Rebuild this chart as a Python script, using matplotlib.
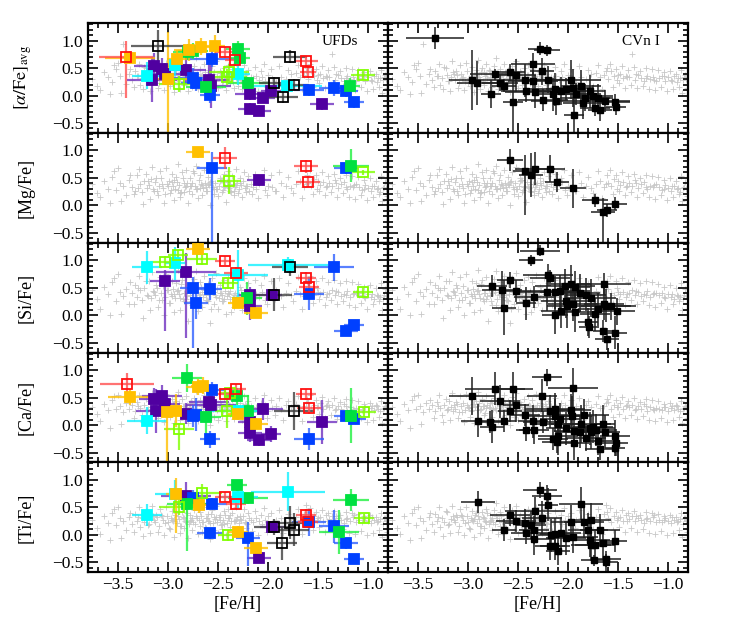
import numpy as np
import matplotlib
matplotlib.use('Agg')
import matplotlib.pyplot as plt
from matplotlib.ticker import MultipleLocator

plt.rcParams['font.family'] = ['Liberation Serif', 'DejaVu Serif']
plt.rcParams['mathtext.fontset'] = 'stix'
plt.rcParams['axes.unicode_minus'] = True

# ---------------- Halo comparison sample (gray crosses) ----------------
halo_feh = [
 -3.76, -3.71, -3.64, -3.60, -3.56, -3.52, -3.48, -3.45, -3.42, -3.39,
 -3.36, -3.33, -3.31, -3.28, -3.26, -3.24, -3.21, -3.19, -3.17, -3.15,
 -3.13, -3.11, -3.09, -3.07, -3.05, -3.03, -3.01, -2.99, -2.97, -2.95,
 -2.93, -2.91, -2.89, -2.87, -2.85, -2.83, -2.81, -2.79, -2.77, -2.75,
 -2.73, -2.71, -2.69, -2.67, -2.65, -2.63, -2.61, -2.59, -2.57, -2.55,
 -2.53, -2.51, -2.49, -2.47, -2.45, -2.43, -2.41, -2.39, -2.37, -2.35,
 -2.33, -2.31, -2.29, -2.27, -2.25, -2.23, -2.21, -2.19, -2.17, -2.15,
 -2.12, -2.09, -2.06, -2.03, -2.00, -1.96, -1.92, -1.87, -1.82, -1.77,
 -1.72, -1.68, -1.64, -1.60, -1.57, -1.54, -1.51, -1.48, -1.45, -1.42,
 -1.39, -1.36, -1.33, -1.30, -1.27, -1.24, -1.21, -1.18, -1.15, -1.12,
 -1.09, -1.06, -1.03, -1.00, -0.97, -0.94, -0.91, -0.88, -0.85, -0.82,
 -3.30, -3.20, -3.14, -3.06, -3.00, -2.94, -2.88, -2.84, -2.78, -2.72,
 -2.66, -2.62, -2.58, -2.52, -2.48, -2.44, -2.38, -2.34, -2.28, -2.22,
 -2.96, -2.90, -2.82, -2.76, -2.68, -2.60, -2.54, -2.46, -2.40, -2.32,
 -1.62, -1.50, -1.41, -1.32, -1.22, -1.14, -1.04, -0.96, -0.90, -0.84,
]
halo_alpha = [
 0.30, 0.18, 0.42, 0.33, 0.25, 0.48, 0.36, 0.94, 0.21, 0.39,
 0.28, 0.44, 0.35, 0.20, 0.31, 0.52, 0.38, 0.26, 0.34, 0.42,
 0.29, 0.37, 0.23, 0.40, 0.33, 0.27, 0.45, 0.31, 0.36, 0.24,
 0.38, 0.30, 0.34, 0.42, 0.27, 0.35, 0.31, 0.46, 0.29, 0.37,
 0.33, 0.40, 0.26, 0.36, 0.30, 0.43, 0.28, 0.35, 0.32, 0.39,
 0.29, 0.36, 0.31, 0.41, 0.27, 0.34, 0.38, 0.30, 0.33, 0.25,
 0.35, 0.31, 0.40, 0.28, 0.33, 0.37, 0.30, 0.26, 0.34, 0.31,
 0.36, 0.29, 0.33, 0.27, 0.38, 0.31, 0.25, 0.34, 0.30, 0.39,
 0.41, 0.33, 0.37, 0.30, 0.44, 0.35, 0.28, 0.39, 0.32, 0.36,
 0.34, 0.75, 0.29, 0.37, 0.31, 0.26, 0.35, 0.30, 0.33, 0.27,
 0.31, 0.36, 0.27, 0.33, 0.29, 0.35, 0.24, 0.32, 0.28, 0.30,
 0.36, 0.27, 0.40, 0.32, 0.22, 0.37, 0.30, 0.43, 0.34, 0.28,
 0.38, 0.31, 0.35, 0.26, 0.41, 0.33, 0.29, 0.36, 0.31, 0.39,
 0.25, 0.34, 0.39, 0.30, 0.36, 0.28, 0.42, 0.33, 0.37, 0.31,
 0.45, 0.38, 0.34, 0.40, 0.32, 0.29, 0.36, 0.27, 0.31, 0.33,
]
halo_mg = [
 0.38, 0.22, 0.45, 0.30, 0.52, 0.28, 0.41, 0.35, 0.18, 0.47,
 0.33, 0.26, 0.55, 0.39, 0.24, 0.44, 0.31, 0.37, 0.48, 0.29,
 0.42, 0.27, 0.36, 0.50, 0.32, 0.21, 0.39, 0.45, 0.28, 0.35,
 0.30, 0.43, 0.37, 0.25, 0.49, 0.34, 0.40, 0.27, 0.36, 0.62,
 0.35, 0.29, 0.46, 0.38, 0.31, 0.41, 0.26, 0.37, 0.44, 0.33,
 0.40, 0.30, 0.36, 0.47, 0.28, 0.35, 0.42, 0.32, 0.25, 0.38,
 0.34, 0.41, 0.29, 0.37, 0.44, 0.31, 0.36, 0.27, 0.39, 0.33,
 0.30, 0.38, 0.42, 0.28, 0.35, 0.33, 0.26, 0.40, 0.36, 0.31,
 0.39, 0.45, 0.34, 0.41, 0.36, 0.48, 0.30, 0.37, 0.43, 0.33,
 0.40, 0.35, 0.46, 0.31, 0.38, 0.42, 0.29, 0.36, 0.33, 0.39,
 0.34, 0.28, 0.37, 0.31, 0.26, 0.35, 0.30, 0.24, 0.32, 0.29,
 0.31, 0.44, 0.27, 0.38, 0.35, 0.47, 0.23, 0.40, 0.36, 0.30,
 0.37, 0.33, 0.42, 0.29, 0.45, 0.34, 0.39, 0.26, 0.41, 0.35,
 0.43, 0.28, 0.36, 0.40, 0.32, 0.38, 0.30, 0.46, 0.34, 0.37,
 0.38, 0.44, 0.35, 0.41, 0.33, 0.37, 0.30, 0.36, 0.32, 0.34,
]
halo_si = [
 0.45, 0.30, 0.52, 0.38, 0.60, 0.25, 0.42, 0.35, 0.48, 0.20,
 0.40, 0.55, 0.33, 0.46, 0.28, 0.50, 0.37, 0.62, 0.31, 0.44,
 0.36, 0.49, 0.27, 0.41, 0.53, 0.34, 0.45, 0.22, 0.39, 0.47,
 0.32, 0.44, 0.38, 0.56, 0.29, 0.41, 0.35, 0.48, 0.26, 0.40,
 0.43, 0.30, 0.37, 0.51, 0.34, 0.45, 0.28, 0.39, 0.12, 0.42,
 0.36, 0.47, 0.31, 0.40, 0.25, 0.44, 0.35, 0.38, 0.05, 0.33,
 0.41, 0.29, 0.36, 0.45, 0.32, 0.39, 0.27, 0.43, 0.34, 0.30,
 0.38, 0.33, 0.42, 0.28, 0.36, 0.31, 0.45, 0.35, 0.40, 0.37,
 0.44, 0.39, 0.35, 0.47, 0.41, 0.36, 0.50, 0.38, 0.43, 0.34,
 0.40, 0.46, 0.37, 0.42, 0.35, 0.39, 0.44, 0.33, 0.38, 0.41,
 0.36, 0.40, 0.32, 0.38, 0.34, 0.30, 0.37, 0.33, 0.29, 0.35,
 0.50, 0.35, 0.43, 0.28, 0.46, 0.39, 0.32, 0.41, 0.37, 0.18,
 0.42, 0.36, 0.48, 0.33, 0.40, 0.29, 0.44, 0.37, 0.31, 0.39,
 0.35, 0.46, 0.30, 0.41, 0.38, 0.26, 0.43, 0.36, 0.40, 0.33,
 0.47, 0.42, 0.38, 0.44, 0.36, 0.40, 0.34, 0.39, 0.35, 0.37,
]
halo_ca = [
 0.32, 0.20, 0.38, 0.27, 0.45, 0.30, 0.35, 0.24, 0.40, 0.29,
 0.36, 0.25, 0.42, 0.31, 0.19, 0.37, 0.28, 0.44, 0.33, 0.26,
 0.30, 0.39, 0.23, 0.34, 0.41, 0.28, 0.36, 0.31, 0.25, 0.38,
 0.33, 0.27, 0.40, 0.30, 0.35, 0.22, 0.37, 0.32, 0.43, 0.29,
 0.31, 0.38, 0.26, 0.34, 0.29, 0.41, 0.33, 0.27, 0.36, 0.30,
 0.35, 0.28, 0.32, 0.39, 0.25, 0.33, 0.30, 0.37, 0.27, 0.34,
 0.29, 0.36, 0.31, 0.26, 0.34, 0.38, 0.28, 0.32, 0.35, 0.24,
 0.33, 0.27, 0.30, 0.36, 0.25, 0.31, 0.34, 0.29, 0.37, 0.32,
 0.38, 0.31, 0.35, 0.42, 0.29, 0.36, 0.33, 0.40, 0.30, 0.34,
 0.32, 0.37, 0.28, 0.35, 0.30, 0.38, 0.26, 0.33, 0.29, 0.31,
 0.30, 0.27, 0.33, 0.25, 0.31, 0.28, 0.34, 0.26, 0.29, 0.32,
 0.34, 0.29, 0.37, 0.23, 0.32, 0.39, 0.27, 0.35, 0.31, 0.28,
 0.36, 0.30, 0.26, 0.38, 0.33, 0.29, 0.35, 0.31, 0.27, 0.34,
 0.28, 0.35, 0.31, 0.40, 0.26, 0.33, 0.37, 0.30, 0.34, 0.29,
 0.40, 0.33, 0.36, 0.30, 0.34, 0.28, 0.32, 0.35, 0.29, 0.31,
]
halo_ti = [
 0.28, 0.12, 0.35, 0.22, 0.40, 0.18, 0.30, 0.25, 0.08, 0.33,
 0.20, 0.38, 0.26, 0.15, 0.31, 0.24, 0.42, 0.19, 0.29, 0.35,
 0.23, 0.32, 0.17, 0.37, 0.27, 0.21, 0.34, 0.13, 0.30, 0.25,
 0.36, 0.22, 0.29, 0.16, 0.33, 0.26, 0.40, 0.20, 0.28, 0.24,
 0.19, 0.31, 0.27, 0.35, 0.23, 0.14, 0.30, 0.26, 0.38, 0.21,
 0.29, 0.24, 0.33, 0.18, 0.27, 0.36, 0.22, 0.30, 0.25, 0.10,
 0.26, 0.32, 0.21, 0.28, 0.35, 0.24, 0.19, 0.30, 0.27, 0.23,
 0.31, 0.25, 0.20, 0.28, 0.34, 0.22, 0.27, 0.30, 0.24, 0.29,
 0.33, 0.27, 0.38, 0.30, 0.24, 0.35, 0.28, 0.32, 0.26, 0.36,
 0.29, 0.34, 0.25, 0.31, 0.27, 0.22, 0.30, 0.26, 0.33, 0.24,
 0.27, 0.23, 0.30, 0.26, 0.21, 0.28, 0.24, 0.29, 0.20, 0.25,
 0.32, 0.18, 0.27, 0.35, 0.23, 0.29, 0.16, 0.31, 0.25, 0.34,
 0.24, 0.30, 0.21, 0.33, 0.27, 0.19, 0.36, 0.26, 0.29, 0.22,
 0.28, 0.35, 0.23, 0.31, 0.17, 0.26, 0.32, 0.20, 0.30, 0.27,
 0.55, 0.31, 0.26, 0.34, 0.29, 0.36, 0.27, 0.32, 0.25, 0.30,
]

# second, more scattered part of the halo sample
halo2_feh = [
 -3.68, -3.54, -3.47, -3.38, -3.34, -3.29, -3.25, -3.22, -3.18, -3.16,
 -3.12, -3.10, -3.08, -3.04, -3.02, -2.98, -2.96, -2.94, -2.92, -2.90,
 -2.88, -2.86, -2.84, -2.82, -2.80, -2.78, -2.76, -2.74, -2.72, -2.70,
 -2.68, -2.66, -2.64, -2.62, -2.60, -2.58, -2.56, -2.54, -2.52, -2.50,
 -2.48, -2.46, -2.44, -2.42, -2.40, -2.38, -2.36, -2.34, -2.32, -2.30,
 -2.28, -2.26, -2.24, -2.22, -2.20, -2.16, -2.13, -2.10, -2.07, -2.04,
 -2.01, -1.97, -1.93, -1.89, -1.85, -1.80, -1.75, -1.70, -1.66, -1.61,
 -1.58, -1.55, -1.52, -1.49, -1.46, -1.43, -1.40, -1.37, -1.34, -1.31,
 -1.28, -1.25, -1.22, -1.19, -1.16, -1.13, -1.10, -1.07, -1.04, -1.01,
 -0.98, -0.95, -0.92, -0.89, -0.87, -0.86, -0.83, -0.81, -3.58, -3.50,
]
halo2_alpha = [
 0.10, 0.55, 0.05, 0.48, 0.15, 0.58, 0.12, 0.50, 0.08, 0.62,
 0.45, 0.14, 0.55, 0.10, 0.60, 0.18, 0.52, 0.06, 0.47, 0.65,
 0.12, 0.50, 0.20, 0.57, 0.09, 0.44, 0.16, 0.53, 0.68, 0.11,
 0.49, 0.15, 0.58, 0.21, 0.46, 0.07, 0.54, 0.17, 0.62, 0.13,
 0.45, 0.19, 0.51, 0.10, 0.56, 0.22, 0.48, 0.14, 0.60, 0.18,
 0.43, 0.12, 0.55, 0.20, 0.47, 0.16, 0.52, 0.09, 0.44, 0.57,
 0.15, 0.48, 0.21, 0.53, 0.12, 0.46, 0.18, 0.55, 0.11, 0.50,
 0.58, 0.16, 0.49, 0.22, 0.54, 0.14, 0.47, 0.20, 0.52, 0.13,
 0.45, 0.18, 0.50, 0.12, 0.48, 0.10, 0.46, 0.15, 0.42, 0.08,
 0.44, 0.12, 0.40, 0.16, 0.47, 0.05, 0.38, 0.14, 0.02, 0.60,
]
halo2_mg = [
 0.15, 0.62, 0.08, 0.55, 0.20, 0.66, 0.02, 0.58, 0.12, 0.70,
 0.50, 0.18, 0.63, 0.05, 0.68, 0.22, 0.57, 0.10, 0.52, 0.75,
 0.16, 0.60, 0.25, 0.64, 0.04, 0.50, 0.20, 0.59, 0.72, 0.14,
 0.55, 0.19, 0.65, 0.26, 0.52, 0.00, 0.61, 0.21, 0.69, 0.17,
 0.50, 0.24, 0.58, 0.06, 0.63, 0.27, 0.54, 0.18, 0.67, 0.23,
 0.49, 0.16, 0.61, 0.25, 0.53, 0.20, 0.58, 0.13, 0.50, 0.64,
 0.19, 0.55, 0.26, 0.60, 0.15, 0.52, 0.22, 0.62, 0.14, 0.56,
 0.65, 0.20, 0.55, 0.27, 0.60, 0.18, 0.53, 0.24, 0.58, 0.16,
 0.50, 0.22, 0.56, 0.15, 0.54, 0.12, 0.52, 0.18, 0.47, 0.10,
 0.49, 0.15, 0.45, 0.20, 0.53, 0.08, 0.43, 0.17, 0.05, 0.68,
]
halo2_si = [
 0.12, 0.68, 0.02, 0.60, 0.20, 0.72, -0.05, 0.63, 0.10, 0.78,
 0.55, 0.15, 0.70, 0.00, 0.75, 0.22, 0.62, 0.05, 0.58, 0.82,
 0.10, 0.65, 0.25, 0.70, -0.10, 0.55, 0.18, 0.66, 0.80, 0.08,
 0.60, 0.15, 0.72, 0.28, 0.57, -0.15, 0.68, 0.20, 0.76, 0.12,
 0.55, 0.25, 0.64, 0.02, 0.70, 0.30, 0.60, 0.15, 0.74, 0.22,
 0.52, 0.10, 0.68, 0.28, 0.58, 0.18, 0.65, 0.05, 0.55, 0.72,
 0.20, 0.62, 0.30, 0.68, 0.15, 0.58, 0.25, 0.70, 0.12, 0.63,
 0.72, 0.22, 0.62, 0.30, 0.68, 0.18, 0.60, 0.28, 0.65, 0.20,
 0.58, 0.25, 0.63, 0.18, 0.60, 0.15, 0.57, 0.22, 0.52, 0.12,
 0.55, 0.20, 0.50, 0.25, 0.58, 0.10, 0.48, 0.22, 0.00, 0.75,
]
halo2_ca = [
 0.08, 0.52, 0.02, 0.45, 0.12, 0.55, 0.05, 0.48, 0.10, 0.58,
 0.42, 0.12, 0.52, 0.06, 0.56, 0.15, 0.48, 0.04, 0.44, 0.60,
 0.10, 0.47, 0.18, 0.53, 0.03, 0.41, 0.14, 0.50, 0.62, 0.08,
 0.46, 0.12, 0.55, 0.19, 0.43, 0.00, 0.51, 0.15, 0.58, 0.10,
 0.42, 0.17, 0.48, 0.07, 0.53, 0.20, 0.45, 0.11, 0.56, 0.16,
 0.40, 0.10, 0.52, 0.18, 0.44, 0.13, 0.49, 0.06, 0.41, 0.54,
 0.12, 0.45, 0.19, 0.50, 0.10, 0.43, 0.16, 0.52, 0.08, 0.47,
 0.54, 0.14, 0.46, 0.20, 0.51, 0.12, 0.44, 0.18, 0.49, 0.11,
 0.42, 0.16, 0.47, 0.10, 0.45, 0.08, 0.43, 0.13, 0.39, 0.06,
 0.41, 0.10, 0.37, 0.14, 0.44, 0.03, 0.35, 0.12, -0.05, 0.55,
]
halo2_ti = [
 0.02, 0.48, -0.05, 0.40, 0.06, 0.50, -0.02, 0.43, 0.04, 0.53,
 0.37, 0.06, 0.47, 0.00, 0.51, 0.10, 0.44, -0.03, 0.39, 0.56,
 0.04, 0.42, 0.12, 0.48, -0.06, 0.36, 0.08, 0.45, 0.58, 0.02,
 0.41, 0.06, 0.50, 0.13, 0.38, -0.08, 0.46, 0.09, 0.53, 0.04,
 0.37, 0.11, 0.43, 0.00, 0.48, 0.14, 0.40, 0.05, 0.51, 0.10,
 0.35, 0.04, 0.47, 0.12, 0.39, 0.07, 0.44, 0.00, 0.36, 0.49,
 0.06, 0.40, 0.13, 0.45, 0.04, 0.38, 0.10, 0.47, 0.02, 0.42,
 0.49, 0.08, 0.41, 0.14, 0.46, 0.06, 0.39, 0.12, 0.44, 0.05,
 0.37, 0.10, 0.42, 0.04, 0.40, 0.02, 0.38, 0.07, 0.34, 0.00,
 0.36, 0.04, 0.32, 0.08, 0.39, -0.03, 0.30, 0.06, -0.10, 0.50,
]

# ---------------- UFD stars (left column) ----------------
# [alpha/Fe]avg
ufd_alpha_gal = (['red'] * 5 + ['orange'] * 6 + ['black'] * 5 + ['lime'] * 4 +
                 ['green'] * 7 + ['cyan'] * 4 + ['blue'] * 8 + ['purple'] * 13)
ufd_alpha_feh = [-3.42, -2.43, -2.33, -1.62, -1.60,
                 -3.38, -3.00, -2.91, -2.79, -2.67, -2.53,
                 -3.10, -1.94, -1.85, -1.78, -1.74,
                 -2.89, -2.41, -2.39, -1.05,
                 -2.80, -2.75, -2.30, -2.28, -2.20, -2.62, -1.18,
                 -3.21, -2.93, -2.30, -1.81,
                 -2.56, -2.75, -2.72, -2.58, -1.59, -1.34, -1.22, -1.14,
                 -3.16, -3.14, -3.06, -3.03, -2.82, -2.59, -2.57, -2.18, -2.18, -2.09, -2.05, -1.97, -1.46]
ufd_alpha_val = [0.71, 0.79, 0.64, 0.62, 0.42,
                 0.69, 0.30, 0.67, 0.83, 0.89, 0.90,
                 0.90, 0.23, -0.03, 0.71, 0.20,
                 0.21, 0.34, 0.42, 0.37,
                 0.79, 0.81, 0.85, 0.68, 0.23, 0.15, 0.17,
                 0.36, 0.56, 0.40, 0.17,
                 0.67, 0.31, 0.23, 0.01, 0.10, 0.14, 0.08, -0.12,
                 0.28, 0.53, 0.48, 0.40, 0.46, 0.28, 0.18, 0.02, -0.24, -0.28, -0.04, 0.08, -0.16]
ufd_alpha_feh_err = [0.27, 0.10, 0.10, 0.12, 0.08,
                     0.25, 0.20, 0.10, 0.15, 0.15, 0.10,
                     0.27, 0.15, 0.15, 0.17, 0.15,
                     0.20, 0.20, 0.20, 0.12,
                     0.15, 0.15, 0.12, 0.10, 0.20, 0.20, 0.10,
                     0.15, 0.10, 0.12, 0.35,
                     0.25, 0.20, 0.15, 0.10, 0.15, 0.15, 0.12, 0.10,
                     0.25, 0.20, 0.15, 0.15, 0.20, 0.20, 0.20, 0.15, 0.12, 0.12, 0.12, 0.10, 0.12]
ufd_alpha_val_err = [[0.76, 0.29], 0.10, 0.10, 0.10, 0.10,
                     0.12, [1.0, 0.85], 0.15, 0.20, 0.15, 0.20,
                     0.30, 0.10, 0.10, 0.12, 0.10,
                     0.15, 0.15, 0.15, 0.08,
                     0.15, 0.15, 0.15, 0.10, 0.10, 0.10, 0.15,
                     0.25, 0.20, 0.20, 0.10,
                     0.15, 0.20, 0.15, 0.15, 0.10, 0.15, 0.10, 0.10,
                     0.40, 0.25, 0.20, 0.20, 0.25, 0.30, 0.40, 0.10, 0.10, 0.10, 0.10, 0.10, 0.10]

# [Mg/Fe]
ufd_mg_gal = ['orange', 'red', 'red', 'red', 'blue', 'blue', 'lime', 'lime', 'purple', 'green']
ufd_mg_feh = [-2.70, -2.43, -1.62, -1.60, -2.56, -1.22, -2.39, -1.05, -2.09, -1.17]
ufd_mg_val = [0.97, 0.87, 0.71, 0.43, 0.68, 0.68, 0.45, 0.60, 0.46, 0.72]
ufd_mg_feh_err = [0.12, 0.12, 0.12, 0.12, 0.15, 0.12, 0.12, 0.12, 0.12, 0.18]
ufd_mg_val_err = [0.10, 0.20, 0.12, 0.10, [1.4, 0.3], 0.10, 0.25, 0.05, 0.10, 0.30]

# [Si/Fe]
ufd_si_gal = (['red'] * 4 + ['orange'] * 3 + ['black'] * 2 + ['lime'] * 5 + ['green'] * 1 +
              ['cyan'] * 4 + ['blue'] * 7 + ['purple'] * 5)
ufd_si_feh = [-2.43, -2.32, -1.62, -1.59,
              -2.70, -2.30, -2.12,
              -1.94, -1.78,
              -3.03, -2.90, -2.66, -2.40, -1.05,
              -2.21,
              -3.21, -2.93, -2.30, -1.80,
              -2.75, -2.72, -2.58, -1.34, -1.59, -1.22, -1.14,
              -3.03, -2.82, -2.18, -2.18, -1.96]
ufd_si_val = [0.99, 0.77, 0.68, 0.51,
              1.21, 0.23, 0.04,
              0.37, 0.87,
              0.97, 1.09, 1.02, 0.58, 0.42,
              0.31,
              0.87, 0.95, 0.74, 0.91,
              0.50, 0.23, 0.48, 0.87, 0.39, -0.28, -0.18,
              0.62, 0.79, 0.37, 0.17, 0.36]
ufd_si_feh_err = [0.10, 0.12, 0.10, 0.10,
                  0.12, 0.10, 0.12,
                  0.18, 0.18,
                  0.15, 0.10, 0.15, 0.10, 0.10,
                  0.15,
                  0.15, 0.10, 0.30, 0.40,
                  0.13, 0.12, 0.12, 0.20, 0.15, 0.12, 0.10,
                  0.15, 0.30, 0.12, 0.12, 0.10]
ufd_si_val_err = [0.08, 0.10, 0.10, 0.10,
                  0.10, 0.10, 0.10,
                  0.30, 0.15,
                  0.10, 0.10, 0.10, 0.10, 0.08,
                  0.30,
                  0.30, 0.30, 0.45, 0.15,
                  [1.1, 0.2], 0.30, 0.20, 0.25, 0.30, 0.10, 0.08,
                  [0.9, 0.2], [1.2, 0.35], 0.15, 0.25, 0.10]

# [Ca/Fe]
ufd_ca_gal = (['red'] * 5 + ['orange'] * 7 + ['black'] * 1 + ['lime'] * 4 + ['green'] * 5 +
              ['cyan'] * 2 + ['blue'] * 7 + ['purple'] * 13)
ufd_ca_feh = [-3.41, -2.43, -2.32, -1.62, -1.59,
              -3.38, -2.92, -3.01, -2.70, -2.65, -2.30, -2.12,
              -1.74,
              -2.89, -2.41, -2.38, -1.04,
              -2.81, -2.31, -2.62, -2.20, -1.17,
              -3.21, -2.30,
              -2.56, -2.75, -2.72, -2.58, -1.59, -1.22, -1.14,
              -3.14, -3.12, -3.06, -3.03, -2.82, -2.59, -2.57, -2.18, -2.18, -2.09, -2.05, -1.97, -1.46]
ufd_ca_val = [0.75, 0.57, 0.65, 0.56, 0.31,
              0.51, 0.26, 0.23, 0.69, 0.72, 0.20, 0.02,
              0.26,
              -0.07, 0.25, 0.59, 0.23,
              0.86, 0.52, 0.14, 0.25, 0.17,
              0.08, 0.25,
              0.63, 0.16, 0.19, -0.26, -0.25, 0.16, 0.11,
              0.47, 0.25, 0.53, 0.39, 0.21, 0.42, 0.37, 0.06, -0.15, -0.28, 0.30, -0.16, 0.06]
ufd_ca_feh_err = [0.27, 0.10, 0.10, 0.10, 0.12,
                  0.22, 0.10, 0.10, 0.12, 0.12, 0.10, 0.12,
                  0.20,
                  0.15, 0.12, 0.10, 0.12,
                  0.15, 0.12, 0.15, 0.10, 0.10,
                  0.20, 0.30,
                  0.12, 0.12, 0.12, 0.10, 0.15, 0.12, 0.12,
                  0.15, 0.20, 0.20, 0.15, 0.20, 0.20, 0.25, 0.12, 0.12, 0.12, 0.20, 0.10, 0.15]
ufd_ca_val_err = [0.20, 0.10, 0.10, 0.10, 0.10,
                  0.15, 0.30, [0.95, 0.10], 0.15, 0.15, 0.10, 0.10,
                  0.35,
                  [0.38, 0.10], 0.30, 0.10, 0.08,
                  0.25, 0.15, 0.30, 0.30, 0.50,
                  0.25, 0.10,
                  0.15, 0.20, 0.30, 0.15, 0.20, 0.10, 0.10,
                  0.20, 0.40, 0.20, 0.20, 0.20, 0.30, 0.30, 0.20, 0.15, 0.10, 0.20, 0.15, 0.40]

# [Ti/Fe]
ufd_ti_gal = (['red'] * 4 + ['orange'] * 4 + ['black'] * 4 + ['lime'] * 4 + ['green'] * 5 +
              ['cyan'] * 4 + ['blue'] * 8 + ['purple'] * 3)
ufd_ti_feh = [-2.43, -2.32, -1.62, -1.60,
              -2.92, -2.69, -2.30, -2.12,
              -1.94, -1.86, -1.78, -1.74,
              -2.89, -2.66, -2.40, -1.04,
              -2.81, -2.31, -2.20, -1.17, -1.29,
              -3.21, -2.93, -2.30, -1.80,
              -2.75, -2.56, -2.58, -2.20, -1.59, -1.34, -1.22, -1.14,
              -2.82, -1.96, -2.09]
ufd_ti_val = [0.69, 0.57, 0.37, 0.23,
              0.74, 0.54, 0.06, -0.24,
              0.14, -0.15, 0.22, 0.09,
              0.51, 0.77, -0.01, 0.30,
              0.56, 0.90, 0.67, 0.64, 0.06,
              0.37, 0.75, 0.69, 0.79,
              0.67, 0.57, 0.03, -0.06, 0.23, 0.16, -0.15, -0.44,
              0.71, 0.14, -0.42]
ufd_ti_feh_err = [0.10, 0.10, 0.10, 0.10,
                  0.10, 0.12, 0.10, 0.12,
                  0.20, 0.15, 0.20, 0.15,
                  0.20, 0.20, 0.10, 0.10,
                  0.20, 0.10, 0.20, 0.18, 0.20,
                  0.15, 0.20, 0.20, 0.37,
                  0.15, 0.15, 0.13, 0.12, 0.17, 0.15, 0.12, 0.10,
                  0.25, 0.12, 0.12]
ufd_ti_val_err = [0.10, 0.10, 0.10, 0.10,
                  [0.7, 0.3], 0.15, 0.10, 0.10,
                  0.15, 0.30, 0.30, 0.30,
                  0.15, 0.15, 0.10, 0.08,
                  [0.85, 0.10], 0.10, 0.10, 0.20, 0.40,
                  0.20, 0.25, 0.20, 0.35,
                  0.15, 0.10, 0.10, [0.5, 0.3], 0.25, 0.30, 0.10, 0.08,
                  0.25, 0.10, 0.10]

# ---------------- CVn I stars (right column) ----------------
cvn_alpha_feh = [-3.33, -2.28, -2.21, -2.35, -2.26, -2.58, -2.52, -2.73, -2.96, -2.91,
                 -2.68, -2.64, -2.77, -2.55, -2.43, -2.35, -2.20, -2.42, -2.33, -2.25,
                 -2.13, -2.07, -2.02, -1.97, -1.95, -2.12, -1.92, -1.87, -1.83, -1.78,
                 -1.75, -1.70, -1.73, -1.68, -1.63, -1.52, -1.53, -1.94, -2.15, -1.85]
cvn_alpha_val = [1.04, 0.85, 0.82, 0.58, 0.44, 0.42, 0.37, 0.39, 0.28, 0.23,
                 0.23, 0.18, 0.03, -0.12, 0.28, 0.26, 0.29, 0.08, 0.07, -0.09,
                 0.11, 0.08, 0.11, 0.29, 0.14, -0.10, 0.02, 0.17, -0.04, 0.08,
                 -0.01, -0.04, -0.23, -0.26, -0.10, -0.21, -0.12, -0.35, 0.02, -0.13]
cvn_alpha_feh_err = [0.29, 0.12, 0.13, 0.22, 0.12, 0.15, 0.20, 0.25, 0.23, 0.20,
                     0.18, 0.12, 0.10, 0.10, 0.30, 0.25, 0.20, 0.25, 0.30, 0.25,
                     0.30, 0.25, 0.20, 0.30, 0.20, 0.25, 0.25, 0.20, 0.25, 0.15,
                     0.20, 0.15, 0.15, 0.12, 0.25, 0.10, 0.15, 0.10, 0.20, 0.20]
cvn_alpha_val_err = [0.20, 0.12, 0.10, 0.20, 0.25, 0.15, 0.30, 0.10, 0.55, 0.40,
                     0.15, 0.12, 0.25, 0.55, 0.30, 0.20, 0.25, 0.20, 0.30, 0.20,
                     0.30, 0.25, 0.20, 0.35, 0.35, 0.25, 0.20, 0.30, 0.25, 0.30,
                     0.20, 0.25, 0.15, 0.20, 0.20, 0.15, 0.15, 0.40, 0.30, 0.30]

cvn_mg_feh = [-2.58, -2.43, -2.37, -2.33, -2.18, -2.11, -1.95, -1.73, -1.65, -1.61, -1.53]
cvn_mg_val = [0.83, 0.62, 0.56, 0.67, 0.67, 0.42, 0.31, 0.09, -0.12, -0.09, 0.03]
cvn_mg_feh_err = [0.13, 0.12, 0.12, 0.20, 0.15, 0.12, 0.13, 0.13, 0.12, 0.10, 0.12]
cvn_mg_val_err = [0.20, [0.8, 0.3], 0.40, 0.30, 0.25, 0.18, 0.35, 0.12, [0.55, 0.25], 0.12, 0.12]

cvn_si_feh = [-2.28, -2.37, -2.76, -2.66, -2.64, -2.58, -2.52, -2.42, -2.34, -2.20,
              -2.18, -2.21, -2.13, -2.13, -2.08, -2.07, -2.03, -2.02, -2.01, -1.97,
              -1.95, -1.93, -1.93, -1.88, -1.82, -1.77, -1.80, -1.79, -1.73, -1.70,
              -1.64, -1.64, -1.62, -1.57, -1.65, -1.61, -1.53, -1.51]
cvn_si_val = [1.17, 1.00, 0.54, 0.46, 0.14, 0.64, 0.44, 0.22, 0.33, 0.74,
              0.68, 0.42, 0.42, 0.01, 0.44, 0.07, 0.54, 0.25, 0.17, 0.57,
              0.20, 0.05, 0.51, 0.40, 0.37, 0.31, -0.12, -0.21, 0.02, 0.11,
              0.57, 0.21, 0.17, 0.16, -0.29, -0.44, -0.32, 0.07]
cvn_si_feh_err = [0.20, 0.12, 0.15, 0.20, 0.12, 0.13, 0.15, 0.10, 0.20, 0.25,
                  0.20, 0.30, 0.15, 0.13, 0.30, 0.20, 0.30, 0.25, 0.20, 0.20,
                  0.25, 0.20, 0.15, 0.20, 0.20, 0.25, 0.10, 0.10, 0.15, 0.20,
                  0.27, 0.20, 0.25, 0.25, 0.10, 0.12, 0.12, 0.18]
cvn_si_val_err = [0.10, 0.10, 0.20, 0.35, 0.50, 0.15, 0.20, 0.30, 0.20, 0.20,
                  0.15, 0.35, 0.30, 0.35, 0.30, 0.30, 0.30, 0.30, 0.40, 0.35,
                  0.30, 0.35, 0.30, 0.35, 0.30, 0.35, 0.25, 0.20, 0.30, 0.30,
                  0.20, 0.30, 0.30, 0.25, 0.20, 0.20, 0.30, 0.25]

cvn_ca_feh = [-2.96, -2.73, -2.55, -2.68, -2.90, -2.78, -2.76, -2.64, -2.58, -2.52,
              -2.43, -2.42, -2.35, -2.34, -2.26, -2.21, -2.25, -2.18, -2.13, -2.13,
              -2.10, -2.08, -2.15, -2.11, -2.10, -2.02, -1.95, -1.97, -1.96, -1.94,
              -1.94, -1.88, -1.87, -1.84, -1.82, -1.78, -1.77, -1.75, -1.72, -1.70,
              -1.68, -1.65, -1.63, -1.53, -1.52, -1.53]
cvn_ca_val = [0.53, 0.66, 0.66, 0.43, 0.08, 0.06, -0.03, 0.07, 0.25, 0.36,
              0.19, -0.09, 0.07, -0.09, 0.53, 0.87, 0.06, 0.25, 0.17, 0.29,
              0.02, 0.11, -0.26, -0.30, -0.20, -0.06, 0.68, 0.27, 0.17, -0.10,
              -0.33, -0.12, 0.02, 0.18, -0.23, -0.06, -0.13, -0.03, -0.09, -0.29,
              -0.44, 0.01, -0.12, -0.20, -0.32, -0.41]
cvn_ca_feh_err = [0.23, 0.30, 0.20, 0.20, 0.17, 0.15, 0.12, 0.12, 0.12, 0.13,
                  0.15, 0.10, 0.15, 0.15, 0.15, 0.15, 0.20, 0.25, 0.30, 0.30,
                  0.25, 0.20, 0.15, 0.15, 0.20, 0.20, 0.25, 0.20, 0.20, 0.20,
                  0.15, 0.25, 0.30, 0.25, 0.20, 0.25, 0.25, 0.20, 0.20, 0.15,
                  0.15, 0.12, 0.15, 0.15, 0.12, 0.10]
cvn_ca_val_err = [0.35, 0.30, 0.30, 0.30, 0.30, 0.20, 0.30, 0.20, 0.20, 0.30,
                  0.20, 0.20, 0.30, 0.25, 0.30, 0.15, 0.20, 0.30, 0.30, 0.30,
                  0.30, 0.30, 0.20, 0.20, 0.35, 0.30, 0.35, 0.30, 0.35, 0.30,
                  0.30, 0.30, 0.35, 0.30, 0.25, 0.30, 0.30, 0.30, 0.30, 0.25,
                  0.20, 0.35, 0.30, 0.30, 0.25, 0.15]

cvn_ti_feh = [-2.90, -2.28, -2.21, -2.20, -2.33, -2.26, -2.58, -2.52, -2.43, -2.37,
              -2.64, -2.42, -2.34, -2.34, -1.87, -1.97, -1.84, -1.77, -1.80, -1.68,
              -2.17, -2.13, -2.07, -2.02, -1.95, -2.18, -2.13, -2.10, -1.78, -1.77,
              -1.73, -1.65, -1.53, -1.74, -1.62, -1.62]
cvn_ti_val = [0.60, 0.82, 0.71, 0.55, 0.44, 0.31, 0.37, 0.26, 0.22, 0.18,
              0.09, 0.04, 0.09, -0.07, 0.57, 0.24, 0.24, 0.28, 0.09, 0.08,
              -0.01, 0.01, 0.03, -0.06, -0.03, -0.21, -0.21, -0.30, -0.10, -0.18,
              -0.19, -0.15, -0.12, -0.46, -0.44, -0.50]
cvn_ti_feh_err = [0.17, 0.17, 0.15, 0.10, 0.30, 0.20, 0.20, 0.20, 0.20, 0.15,
                  0.12, 0.15, 0.15, 0.20, 0.22, 0.20, 0.20, 0.20, 0.20, 0.20,
                  0.15, 0.15, 0.20, 0.20, 0.25, 0.15, 0.15, 0.12, 0.20, 0.20,
                  0.20, 0.15, 0.12, 0.13, 0.15, 0.12]
cvn_ti_val_err = [0.20, 0.15, 0.20, 0.30, 0.25, 0.30, 0.20, 0.20, 0.25, 0.25,
                  0.20, 0.20, 0.25, 0.30, 0.30, 0.30, 0.30, 0.30, 0.30, 0.30,
                  0.30, 0.30, 0.30, 0.30, 0.30, 0.25, 0.25, 0.25, 0.30, 0.30,
                  0.30, 0.30, 0.20, 0.10, 0.15, 0.15]

row_labels = [r'$[\alpha/\mathrm{Fe}]_{\mathrm{avg}}$', '[Mg/Fe]', '[Si/Fe]', '[Ca/Fe]', '[Ti/Fe]']
x_label = '[Fe/H]'
left_title = 'UFDs'
right_title = 'CVn I'

# ---------------- styles ----------------
gal_order = ['purple', 'blue', 'green', 'cyan', 'lime', 'orange', 'black', 'red']
gal_style = {
    'red':    dict(color='#ff1010', ecolor='#ff5050', filled=False),
    'orange': dict(color='#ffc000', ecolor='#ffc000', filled=True),
    'black':  dict(color='#000000', ecolor='#404040', filled=False),
    'lime':   dict(color='#80ff00', ecolor='#80ff00', filled=False),
    'green':  dict(color='#00e040', ecolor='#20f040', filled=True),
    'cyan':   dict(color='#00ffff', ecolor='#10f0ff', filled=True),
    'blue':   dict(color='#0040ff', ecolor='#3060ff', filled=True),
    'purple': dict(color='#5000a0', ecolor='#7030c0', filled=True),
}


def asym(errs):
    lo = [e[0] if isinstance(e, (list, tuple)) else e for e in errs]
    hi = [e[1] if isinstance(e, (list, tuple)) else e for e in errs]
    return np.array([lo, hi])


ufd_sets = [
    (ufd_alpha_gal, ufd_alpha_feh, ufd_alpha_val, ufd_alpha_feh_err, ufd_alpha_val_err),
    (ufd_mg_gal, ufd_mg_feh, ufd_mg_val, ufd_mg_feh_err, ufd_mg_val_err),
    (ufd_si_gal, ufd_si_feh, ufd_si_val, ufd_si_feh_err, ufd_si_val_err),
    (ufd_ca_gal, ufd_ca_feh, ufd_ca_val, ufd_ca_feh_err, ufd_ca_val_err),
    (ufd_ti_gal, ufd_ti_feh, ufd_ti_val, ufd_ti_feh_err, ufd_ti_val_err),
]
cvn_sets = [
    (cvn_alpha_feh, cvn_alpha_val, cvn_alpha_feh_err, cvn_alpha_val_err),
    (cvn_mg_feh, cvn_mg_val, cvn_mg_feh_err, cvn_mg_val_err),
    (cvn_si_feh, cvn_si_val, cvn_si_feh_err, cvn_si_val_err),
    (cvn_ca_feh, cvn_ca_val, cvn_ca_feh_err, cvn_ca_val_err),
    (cvn_ti_feh, cvn_ti_val, cvn_ti_feh_err, cvn_ti_val_err),
]
halo_sets = [halo_alpha, halo_mg, halo_si, halo_ca, halo_ti]
halo2_sets = [halo2_alpha, halo2_mg, halo2_si, halo2_ca, halo2_ti]

fig = plt.figure(figsize=(7.47, 6.22), dpi=100)
gs = fig.add_gridspec(5, 2, left=0.118, right=0.921, top=0.963, bottom=0.080,
                      hspace=0, wspace=0)


def style_ax(ax, left_col, bottom_row):
    ax.set_xlim(-3.8, -0.8)
    ax.set_ylim(-0.68, 1.32)
    ax.xaxis.set_major_locator(MultipleLocator(0.5))
    ax.xaxis.set_minor_locator(MultipleLocator(0.1))
    ax.yaxis.set_major_locator(MultipleLocator(0.5))
    ax.yaxis.set_minor_locator(MultipleLocator(0.1))
    ax.tick_params(which='both', direction='in', top=True, right=True,
                   width=1.2, labelsize=12.5, labelleft=left_col, labelbottom=bottom_row)
    ax.tick_params(which='major', length=7)
    ax.tick_params(which='minor', length=3.5)
    for s in ax.spines.values():
        s.set_linewidth(1.6)


for r in range(5):
    axL = fig.add_subplot(gs[r, 0])
    axR = fig.add_subplot(gs[r, 1])
    for ax in (axL, axR):
        ax.plot(halo_feh, halo_sets[r], linestyle='none', marker='+', ms=3.8,
                mew=0.6, color='#c8c8c8', zorder=1)
        ax.plot(halo2_feh, halo2_sets[r], linestyle='none', marker='+', ms=3.8,
                mew=0.6, color='#c8c8c8', zorder=1)

    gal, feh, val, feh_err, val_err = ufd_sets[r]
    gal = np.array(gal)
    feh = np.array(feh)
    val = np.array(val)
    feh_err = np.array(feh_err)
    yerr_all = asym(val_err)
    for g in gal_order:
        m = gal == g
        if not m.any():
            continue
        st = gal_style[g]
        axL.errorbar(feh[m], val[m], xerr=feh_err[m], yerr=yerr_all[:, m],
                     fmt='none', ecolor=st['ecolor'], elinewidth=1.6, alpha=0.8,
                     capsize=0, zorder=3)
        axL.plot(feh[m], val[m], linestyle='none', marker='s', ms=7,
                 mfc=st['color'] if st['filled'] else 'none',
                 mec=st['color'], mew=1.3, zorder=4)

    cf, cv, cfe, cve = cvn_sets[r]
    axR.errorbar(cf, cv, xerr=cfe, yerr=asym(cve), fmt='none', ecolor='#202020',
                 elinewidth=1.3, alpha=0.85, capsize=0, zorder=3)
    axR.plot(cf, cv, linestyle='none', marker='s', ms=5, mfc='black', mec='black',
             zorder=4)

    style_ax(axL, True, r == 4)
    style_ax(axR, False, r == 4)
    axL.set_ylabel(row_labels[r], fontsize=13)
    axL.yaxis.set_label_coords(-0.18, 0.5)
    if r == 0:
        axL.text(0.78, 0.80, left_title, transform=axL.transAxes, fontsize=11)
        axR.text(0.78, 0.80, right_title, transform=axR.transAxes, fontsize=11)
    if r == 4:
        axL.set_xlabel(x_label, fontsize=13, labelpad=2)
        axR.set_xlabel(x_label, fontsize=13, labelpad=2)

fig.savefig('out.png', dpi=100)
